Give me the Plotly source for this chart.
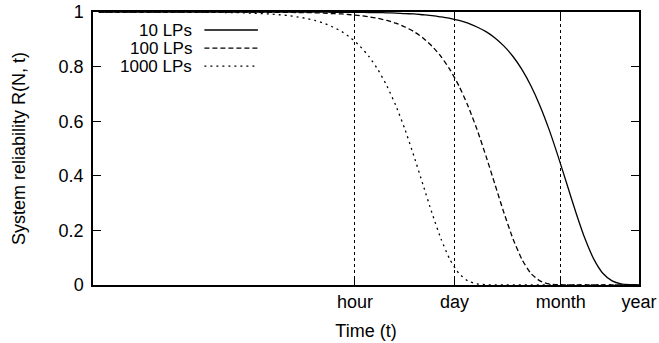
import plotly.graph_objects as go

# Time grid: log10(seconds) from 1 s to 1 year in 1/8-decade steps
log_t = [i * 0.125 for i in range(61)]
time_s = [10 ** v for v in log_t]

r_10 = [1.000] * 24 + [
    1.000, 1.000, 0.999, 0.999, 0.999, 0.999, 0.998, 0.998, 0.997, 0.996,
    0.994, 0.993, 0.990, 0.987, 0.982, 0.977, 0.969, 0.959, 0.945, 0.928,
    0.905, 0.875, 0.837, 0.789, 0.729, 0.656, 0.570, 0.472, 0.368, 0.264,
    0.169, 0.093, 0.042, 0.015, 0.004, 0.001, 0.000]
r_100 = [1.000] * 16 + [
    1.000, 1.000, 0.999, 0.999, 0.999, 0.999, 0.998, 0.998, 0.997, 0.996,
    0.994, 0.993, 0.990, 0.987, 0.982, 0.977, 0.969, 0.959, 0.945, 0.928,
    0.905, 0.875, 0.837, 0.789, 0.729, 0.656, 0.570, 0.472, 0.368, 0.264,
    0.169, 0.093, 0.042, 0.015, 0.004, 0.001, 0.000] + [0.000] * 8
r_1000 = [1.000] * 8 + [
    1.000, 1.000, 0.999, 0.999, 0.999, 0.999, 0.998, 0.998, 0.997, 0.996,
    0.994, 0.993, 0.990, 0.987, 0.982, 0.977, 0.969, 0.959, 0.945, 0.928,
    0.905, 0.875, 0.837, 0.789, 0.729, 0.656, 0.570, 0.472, 0.368, 0.264,
    0.169, 0.093, 0.042, 0.015, 0.004, 0.001, 0.000] + [0.000] * 16

series_names = ["10 LPs", "100 LPs", "1000 LPs"]
series_values = [r_10, r_100, r_1000]
series_dash = ["solid", "5px,3px", "2px,4px"]

x_tick_vals = [3600, 86400, 2592000, 31536000]
x_tick_text = ["hour", "day", "month", "year"]
y_tick_vals = [0, 0.2, 0.4, 0.6, 0.8, 1]

FONT = "Liberation Sans, Arial, Helvetica, sans-serif"
FS = 18

fig = go.Figure()
for name, vals, dash in zip(series_names, series_values, series_dash):
    fig.add_trace(go.Scatter(
        x=time_s, y=vals, mode="lines", name=name,
        line=dict(color="black", width=1.3, dash=dash, shape="spline", smoothing=0.6),
        showlegend=False,
    ))

# gnuplot-style legend: right-aligned text with the line sample to its right
legend_y = [0.934, 0.868, 0.802]
for name, dash, yy in zip(series_names, series_dash, legend_y):
    fig.add_annotation(
        xref="paper", yref="paper", x=0.184, y=yy, text=name,
        showarrow=False, xanchor="right", yanchor="middle",
        font=dict(family=FONT, size=17, color="black"), borderpad=0,
    )
    fig.add_shape(
        type="line", xref="paper", yref="paper",
        x0=0.204, x1=0.302, y0=yy, y1=yy,
        line=dict(color="black", width=1.3, dash=dash),
    )

fig.update_xaxes(
    type="log", range=[-0.08, 7.4988], automargin=False,
    tickvals=x_tick_vals, ticktext=x_tick_text,
    ticks="inside", ticklen=8, tickwidth=1, tickcolor="black",
    showline=True, linecolor="black", linewidth=1.5, mirror="ticks",
    showgrid=True, gridcolor="black", gridwidth=1, griddash="dot",
    zeroline=False,
    tickfont=dict(family=FONT, size=FS, color="black"),
    title=dict(text="Time (t)", font=dict(family=FONT, size=FS, color="black"), standoff=13),
)
fig.update_yaxes(
    range=[0, 1], tickvals=y_tick_vals, automargin=False,
    ticks="inside", ticklen=8, tickwidth=1, tickcolor="black",
    showline=True, linecolor="black", linewidth=1.5, mirror="ticks",
    showgrid=False, zeroline=False,
    ticklabelstandoff=4,
    tickfont=dict(family=FONT, size=FS, color="black"),
    title=dict(text="System reliability R(N, t)", font=dict(family=FONT, size=FS, color="black"), standoff=28),
)

fig.update_layout(
    width=659, height=343,
    margin=dict(l=93, r=20, t=12, b=58),
    paper_bgcolor="white", plot_bgcolor="white",
    font=dict(family=FONT, color="black"),
)

fig.write_html("out.html", post_script="document.body.style.margin='0px';")
